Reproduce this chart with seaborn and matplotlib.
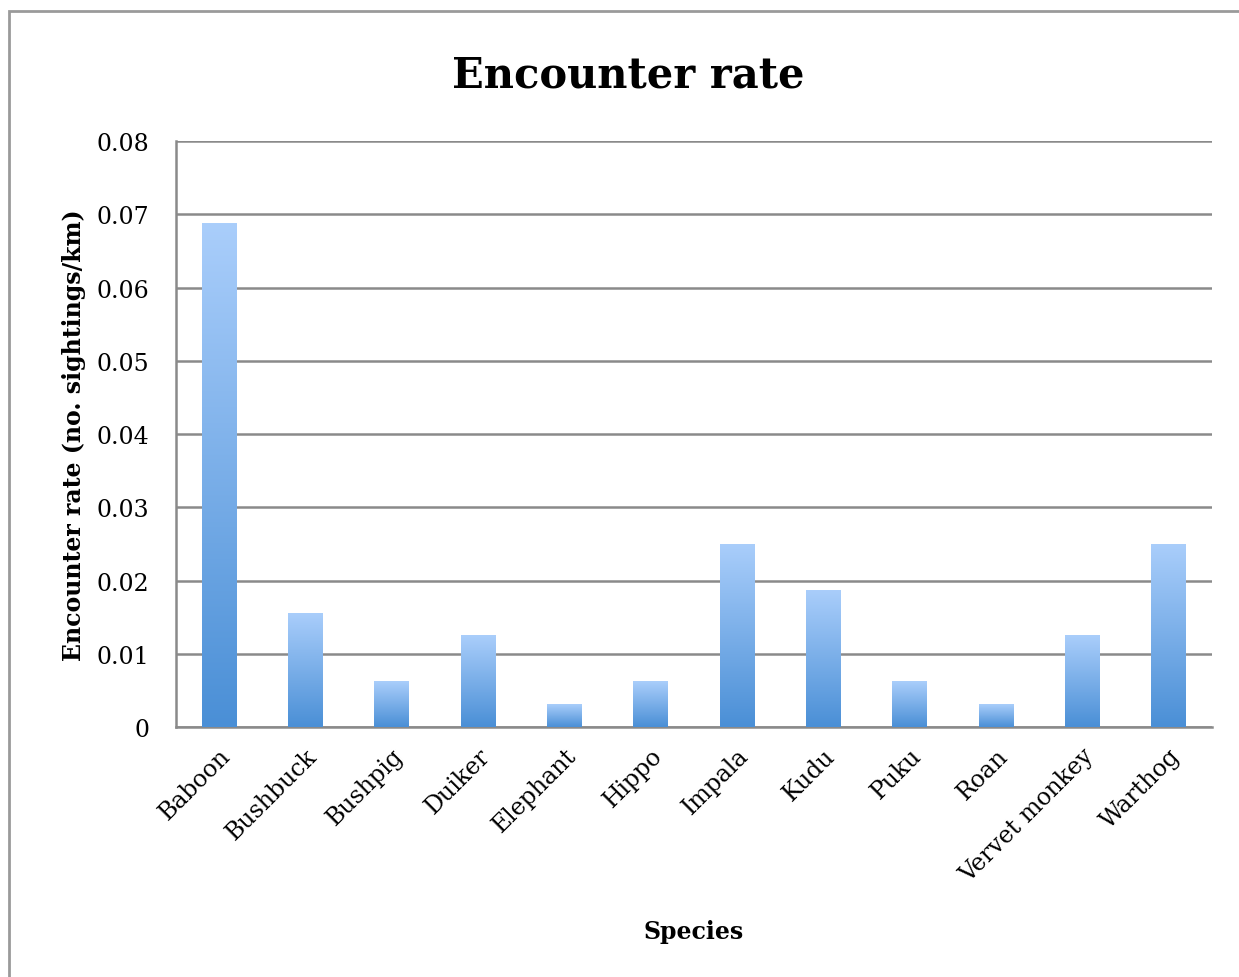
import numpy as np
import pandas as pd
import matplotlib
matplotlib.use("Agg")
import matplotlib.pyplot as plt
import seaborn as sns
from matplotlib.colors import LinearSegmentedColormap
from matplotlib.patches import Rectangle

species = ["Baboon", "Bushbuck", "Bushpig", "Duiker", "Elephant", "Hippo",
           "Impala", "Kudu", "Puku", "Roan", "Vervet monkey", "Warthog"]
rate = [0.06875, 0.015625, 0.00625, 0.0125, 0.003125, 0.00625,
        0.025, 0.01875, 0.00625, 0.003125, 0.0125, 0.025]
yticks = [0, 0.01, 0.02, 0.03, 0.04, 0.05, 0.06, 0.07, 0.08]
ytick_labels = ["0", "0.01", "0.02", "0.03", "0.04", "0.05", "0.06", "0.07", "0.08"]

df = pd.DataFrame({"species": species, "rate": rate})

sns.set_style("white")
plt.rcParams["font.family"] = ["DejaVu Serif"]
plt.rcParams["text.color"] = "black"
plt.rcParams["xtick.labelcolor"] = "black"
plt.rcParams["ytick.labelcolor"] = "black"
plt.rcParams["axes.labelcolor"] = "black"

fig = plt.figure(figsize=(12.39, 9.78), dpi=100)
ax = fig.add_axes([0.142, 0.2556, 0.836, 0.5992])

sns.barplot(data=df, x="species", y="rate", color="#6fa8e8", width=0.4,
            edgecolor="none", ax=ax, zorder=3)

# gradient fill, light on top, darker at the base
cmap = LinearSegmentedColormap.from_list("grad", ["#4a8fd6", "#aacefb"])
grad = np.linspace(0, 1, 256).reshape(-1, 1)
for p in ax.patches:
    x0, y0 = p.get_x(), p.get_y()
    w, h = p.get_width(), p.get_height()
    im = ax.imshow(grad, cmap=cmap, aspect="auto", origin="lower",
                   extent=[x0, x0 + w, y0, y0 + h], zorder=4)
    im.set_clip_path(p)
    p.set_facecolor("none")

ax.set_xlim(-0.5, len(species) - 0.5)
ax.set_ylim(0, 0.08)
ax.set_yticks(yticks)
ax.set_yticklabels(ytick_labels, fontsize=17)
ax.yaxis.grid(True, color="#8a8a8a", linewidth=1.8, zorder=0)
ax.set_axisbelow(True)

# category ticks sit between bars
ax.set_xticks(np.arange(len(species)))
ax.set_xticklabels(species, rotation=45, ha="right", rotation_mode="anchor", fontsize=17)
ax.set_xticks(np.arange(-0.5, len(species)), minor=True)
ax.tick_params(axis="x", which="major", length=0, pad=12)
ax.tick_params(axis="x", which="minor", length=9, width=1.8, color="#8a8a8a", direction="out")
ax.tick_params(axis="y", length=9, width=1.8, color="#8a8a8a", direction="out", pad=10)

for s in ["top", "right"]:
    ax.spines[s].set_visible(False)
for s in ["left", "bottom"]:
    ax.spines[s].set_color("#8a8a8a")
    ax.spines[s].set_linewidth(1.8)

ax.set_xlabel("Species", fontsize=17, fontweight="bold", labelpad=24)
ax.set_ylabel("Encounter rate (no. sightings/km)", fontsize=17, fontweight="bold", labelpad=8)
fig.text(0.507, 0.923, "Encounter rate", ha="center", va="center",
         fontsize=30, fontweight="bold")

# outer chart frame
fig.patches.append(Rectangle((9 / 1239, -0.01), 1.02, 1 - 12 / 978 + 0.01,
                             transform=fig.transFigure, fill=False,
                             edgecolor="#9a9a9a", linewidth=2))

fig.savefig("out.png", dpi=100)
